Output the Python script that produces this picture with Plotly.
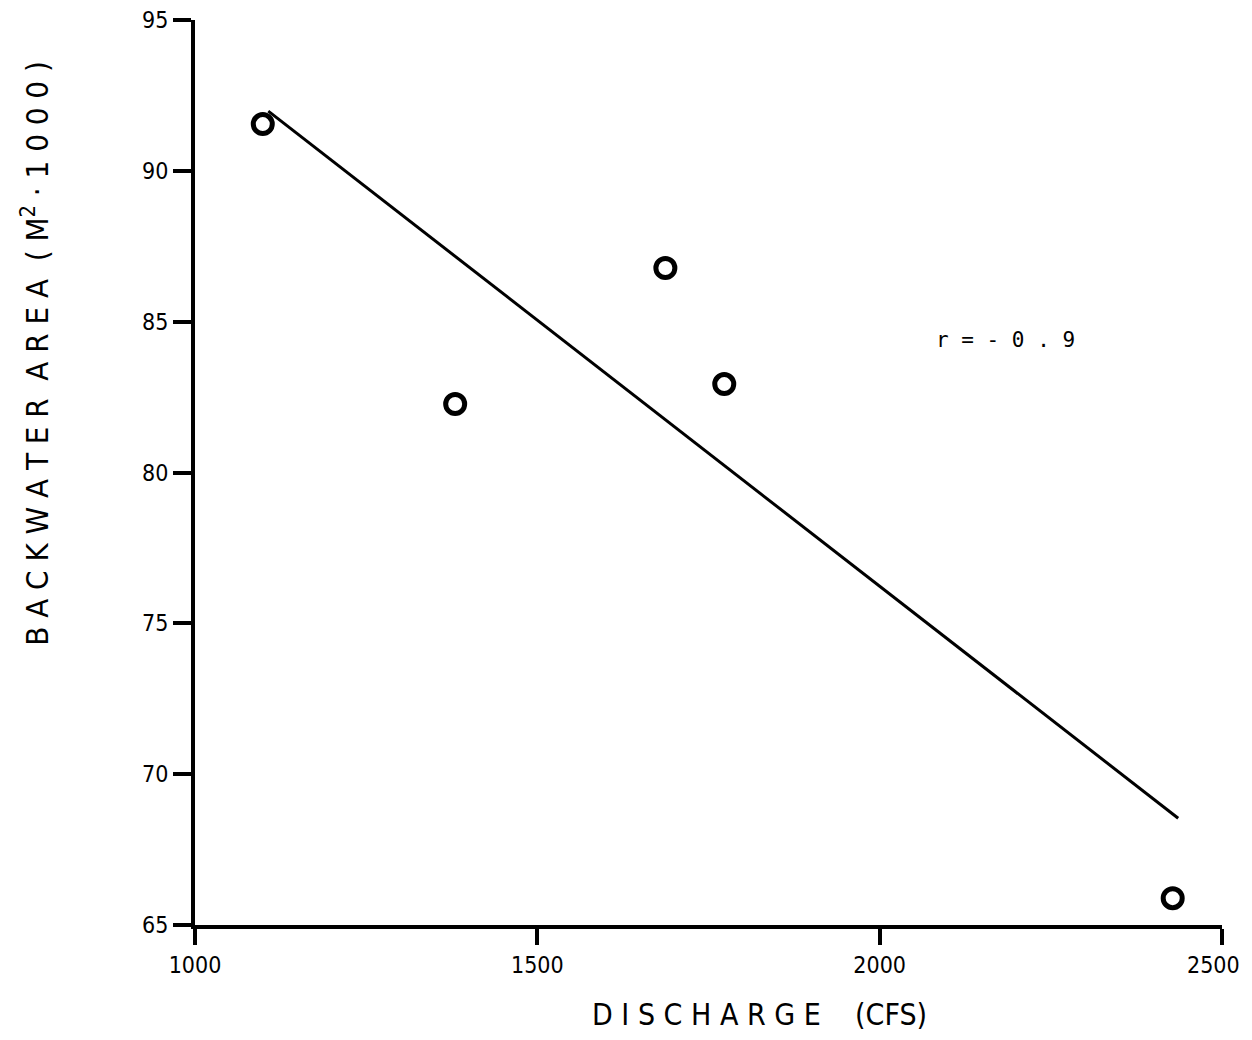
import plotly.graph_objects as go

discharge = [1099, 1380, 1687, 1773, 2428]
area = [91.55, 82.27, 86.78, 82.93, 65.89]
fit_x = [1107, 2436]
fit_y = [91.98, 68.54]
x_ticks = [1000, 1500, 2000, 2500]
y_ticks = [65, 70, 75, 80, 85, 90, 95]

font_narrow = "DejaVu Sans Condensed, Liberation Sans Narrow, Arial Narrow, sans-serif"

fig = go.Figure()
fig.add_trace(go.Scatter(x=fit_x, y=fit_y, mode="lines",
                         line=dict(color="black", width=3), showlegend=False, hoverinfo="skip"))
fig.add_trace(go.Scatter(x=discharge, y=area, mode="markers",
                         marker=dict(symbol="circle-open", size=19, color="black",
                                     line=dict(width=5, color="black")),
                         showlegend=False))

x_text = [str(v) for v in x_ticks[:-1]] + [""]

fig.update_layout(
    width=1236, height=1024,
    margin=dict(l=187, r=22, t=12, b=107),
    paper_bgcolor="white", plot_bgcolor="white",
    font=dict(family=font_narrow, color="black", size=23),
    xaxis=dict(range=[1000, 2500], tickvals=x_ticks, ticktext=x_text,
               automargin=False, ticklabeloverflow="allow",
               showgrid=False, zeroline=False, showline=True, linecolor="black", linewidth=4,
               ticks="outside", ticklen=16, tickwidth=4, tickcolor="black",
               tickfont=dict(size=23, family=font_narrow)),
    yaxis=dict(range=[65, 95], tickvals=y_ticks, ticktext=[str(v) for v in y_ticks],
               automargin=False, ticklabeloverflow="allow",
               showgrid=False, zeroline=False, showline=True, linecolor="black", linewidth=4,
               ticks="outside", ticklen=18, tickwidth=4, tickcolor="black",
               tickfont=dict(size=23, family=font_narrow)),
    annotations=[
        dict(text=str(x_ticks[-1]), xref="x", yref="paper", x=x_ticks[-1], y=-0.0442,
             xanchor="right", yanchor="middle", xshift=20, showarrow=False,
             font=dict(size=23, family=font_narrow, color="black")),
        dict(text="D I S C H A R G E &nbsp;&nbsp; (CFS)", xref="paper", yref="paper",
             x=0.550, y=-0.0994, xanchor="center", yanchor="middle", showarrow=False,
             font=dict(size=30, family=font_narrow, color="black")),
        dict(text="B A C K W A T E R &nbsp;A R E A &nbsp;( M<sup>2</sup> · 1 0 0 0 )",
             xref="paper", yref="paper", x=-0.156, y=0.632, xanchor="center", yanchor="middle",
             textangle=-90, showarrow=False,
             font=dict(size=31, family=font_narrow, color="black")),
        dict(text="r = - 0 . 9", xref="x", yref="y", x=2184, y=84.39,
             xanchor="center", yanchor="middle", showarrow=False,
             font=dict(size=21, family="DejaVu Sans Mono, monospace", color="black")),
    ],
)

fig.write_html("out.html")
